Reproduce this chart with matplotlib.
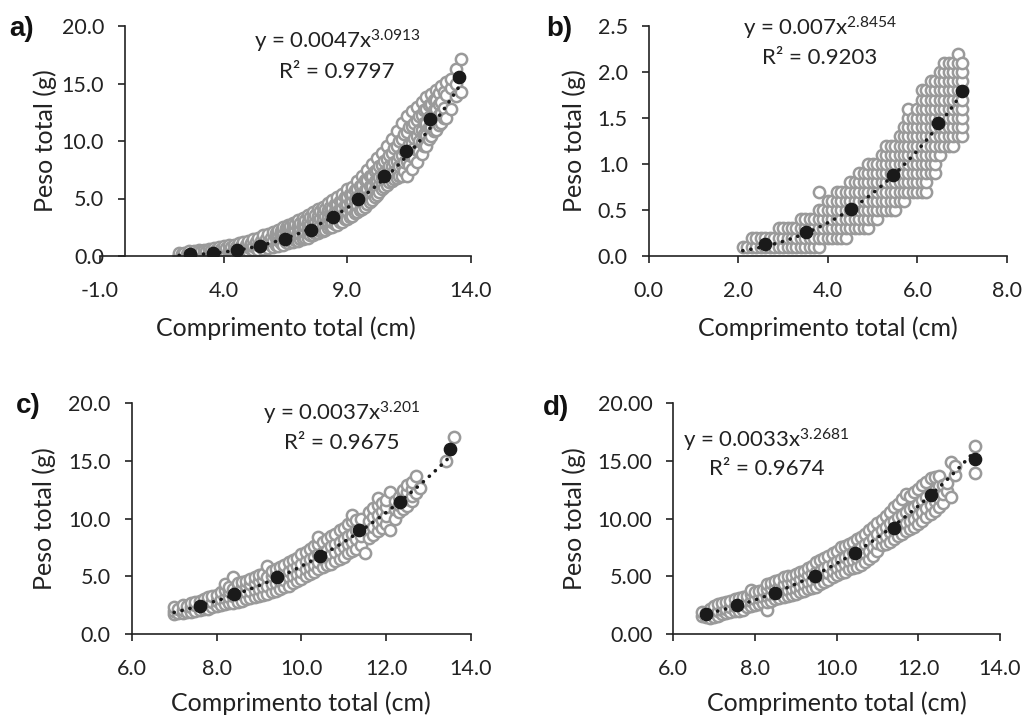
import numpy as np
import matplotlib
matplotlib.use("Agg")
import matplotlib.pyplot as plt
from matplotlib.ticker import FormatStrFormatter

plt.rcParams["font.family"] = ["Lato", "DejaVu Sans"]
plt.rcParams["mathtext.fontset"] = "custom"
plt.rcParams["mathtext.rm"] = "Lato"
plt.rcParams["mathtext.it"] = "Lato"

# ---------------- data ----------------
# a) length classes (cm) and the weights (g) observed in each class
a_len = [2.2, 2.3, 2.4, 2.5, 2.6, 2.7, 2.8, 2.9, 3.0, 3.1, 3.2, 3.3, 3.4, 3.5,
         3.6, 3.7, 3.8, 3.9, 4.0, 4.1, 4.2, 4.3, 4.4, 4.5, 4.6, 4.7, 4.8, 4.9,
         5.0, 5.1, 5.2, 5.3, 5.4, 5.5, 5.6, 5.7, 5.8, 5.9, 6.0, 6.1, 6.2, 6.3,
         6.4, 6.5, 6.6, 6.7, 6.8, 6.9, 7.0, 7.1, 7.2, 7.3, 7.4, 7.5, 7.6, 7.7,
         7.8, 7.9, 8.0, 8.1, 8.2, 8.3, 8.4, 8.5, 8.6, 8.7, 8.8, 8.9, 9.0, 9.1,
         9.2, 9.3, 9.4, 9.5, 9.6, 9.7, 9.8, 9.9, 10.0, 10.1, 10.2, 10.3, 10.4,
         10.5, 10.6, 10.7, 10.8, 10.9, 11.0, 11.1, 11.2, 11.3, 11.4, 11.5,
         11.6, 11.7, 11.8, 11.9, 12.0, 12.1, 12.2, 12.3, 12.4, 12.5, 12.6,
         12.7, 12.8, 12.9, 13.0, 13.2, 13.4, 13.6]
a_wt = [[0.0, 0.1, 0.3], [0.1, 0.2], [0.1, 0.2, 0.3], [0.0, 0.2],
        [0.0, 0.2, 0.4], [0.1, 0.3], [0.1, 0.2, 0.4], [0.1, 0.3],
        [0.1, 0.3, 0.5], [0.2, 0.4], [0.1, 0.3, 0.5], [0.2, 0.4],
        [0.1, 0.3, 0.6], [0.2, 0.5], [0.1, 0.4, 0.7], [0.2, 0.5],
        [0.2, 0.4, 0.8], [0.3, 0.6], [0.2, 0.5, 0.9], [0.3, 0.7],
        [0.2, 0.5, 1.0], [0.4, 0.8], [0.3, 0.6, 1.0], [0.4, 0.8],
        [0.3, 0.7, 1.1], [0.5, 0.9], [0.4, 0.7, 1.2], [0.5, 1.0],
        [0.4, 0.8, 1.3], [0.6, 1.1], [0.5, 0.9, 1.5], [0.7, 1.2],
        [0.5, 1.0, 1.6], [0.8, 1.3], [0.6, 1.1, 1.8], [0.9, 1.5],
        [0.7, 1.2, 1.9], [1.0, 1.6], [0.8, 1.3, 2.1], [1.0, 1.6, 2.0],
        [0.9, 1.4, 1.9, 2.3], [1.1, 1.7, 2.2], [1.0, 1.6, 2.1, 2.5],
        [1.2, 1.9, 2.4], [1.1, 1.8, 2.3, 2.7], [1.3, 2.0, 2.6],
        [1.2, 2.0, 2.5, 2.9], [1.4, 1.9, 2.3, 2.8],
        [1.3, 1.7, 2.1, 2.6, 3.1], [1.5, 1.9, 2.4, 2.9],
        [1.5, 1.9, 2.3, 2.8, 3.3], [1.6, 2.1, 2.6, 3.1],
        [1.6, 2.0, 2.5, 3.0, 3.6], [1.8, 2.3, 2.8, 3.4],
        [1.8, 2.3, 2.8, 3.3, 3.8], [2.0, 2.5, 3.0, 3.6],
        [2.0, 2.5, 3.0, 3.5, 4.1], [2.2, 2.7, 3.3, 3.9],
        [2.2, 2.7, 3.2, 3.7, 4.3], [2.3, 2.9, 3.5, 4.1],
        [2.4, 2.9, 3.4, 4.0, 4.6], [2.5, 3.1, 3.7, 4.3],
        [2.5, 3.0, 3.6, 4.2, 4.9], [2.8, 3.3, 3.9, 4.5],
        [2.7, 3.3, 3.9, 4.5, 5.1], [3.0, 3.6, 4.2, 4.8],
        [3.0, 3.6, 4.2, 4.8, 5.4], [3.2, 3.8, 4.4, 5.1],
        [3.2, 3.9, 4.5, 5.1, 5.8], [3.4, 4.1, 4.7, 5.4],
        [3.5, 4.1, 4.8, 5.4, 6.0], [3.7, 4.4, 5.0, 5.7],
        [3.8, 4.4, 5.1, 5.8, 6.5], [4.0, 4.7, 5.4, 6.1],
        [4.1, 4.7, 5.4, 6.2, 7.0], [4.3, 5.0, 5.7, 6.6],
        [4.5, 5.1, 5.8, 6.6, 7.5], [4.7, 5.4, 6.1, 7.0],
        [4.9, 5.5, 6.1, 7.0, 8.0], [5.1, 5.8, 6.5, 7.4],
        [5.3, 5.9, 6.5, 7.5, 8.5], [5.6, 6.2, 6.9, 7.8],
        [5.8, 6.3, 6.9, 7.9, 9.0], [6.0, 6.6, 7.3, 8.3],
        [6.2, 6.7, 7.3, 8.4, 9.6], [6.4, 7.0, 7.8, 8.8],
        [6.5, 7.1, 7.8, 9.0, 10.2], [6.7, 7.4, 8.2, 9.4],
        [6.8, 7.5, 8.3, 9.6, 10.9], [7.0, 7.8, 8.7, 10.0],
        [7.0, 7.9, 8.8, 10.2, 11.6], [7.4, 8.2, 9.2, 10.6],
        [7.0, 8.3, 9.3, 10.8, 12.2], [7.9, 8.8, 9.7, 11.2],
        [7.6, 8.7, 9.8, 11.3, 12.6], [8.5, 9.4, 10.3, 11.6],
        [8.2, 9.2, 10.4, 11.8, 13.0], [9.1, 10.0, 11.0, 12.2],
        [8.9, 9.9, 11.0, 12.3, 13.4], [9.6, 10.6, 11.6, 12.7],
        [9.6, 10.5, 11.6, 12.8, 13.8], [10.2, 11.2, 12.1, 13.1],
        [10.4, 11.2, 12.2, 13.2, 14.1], [10.9, 11.8, 12.7, 13.6],
        [11.0, 11.8, 12.8, 13.6, 14.4], [11.4, 12.3, 13.2, 14.2],
        [11.6, 12.4, 13.4, 14.8], [12.0, 12.9, 14.3],
        [12.0, 14.0, 15.1], [12.8, 14.6, 15.4], [13.9, 15.0, 16.3],
        [14.3, 17.1]]
a_mean_len = [2.64, 3.58, 4.55, 5.47, 6.48, 7.52, 8.43, 9.44, 10.50, 11.37, 12.34, 13.53]
a_mean_wt = [0.17, 0.23, 0.52, 0.90, 1.48, 2.26, 3.42, 4.98, 6.96, 9.16, 11.88, 15.54]

# b)
b_len = [2.1, 2.2, 2.3, 2.4, 2.5, 2.6, 2.7, 2.8, 2.9, 3.0, 3.1, 3.2, 3.3, 3.4,
         3.5, 3.6, 3.7, 3.8, 3.9, 4.0, 4.1, 4.2, 4.3, 4.4, 4.5, 4.6, 4.7, 4.8,
         4.9, 5.0, 5.1, 5.2, 5.3, 5.4, 5.5, 5.6, 5.7, 5.8, 5.9, 6.0, 6.1, 6.2,
         6.3, 6.4, 6.5, 6.6, 6.7, 6.8, 6.9, 7.0]
b_wt = [[0.1], [0.1], [0.1, 0.2], [0.1, 0.2], [0.1, 0.2], [0.1, 0.2],
        [0.1, 0.2], [0.1, 0.2], [0.1, 0.2, 0.3], [0.1, 0.2, 0.3],
        [0.1, 0.2, 0.3], [0.1, 0.2, 0.3], [0.1, 0.2, 0.3],
        [0.1, 0.2, 0.3, 0.4], [0.1, 0.2, 0.3, 0.4], [0.1, 0.2, 0.3, 0.4],
        [0.1, 0.2, 0.3, 0.4], [0.1, 0.2, 0.3, 0.4, 0.5, 0.7],
        [0.2, 0.3, 0.4, 0.5], [0.2, 0.3, 0.4, 0.5, 0.6],
        [0.2, 0.3, 0.4, 0.5, 0.6], [0.2, 0.3, 0.4, 0.5, 0.6, 0.7],
        [0.2, 0.3, 0.4, 0.5, 0.6, 0.7], [0.2, 0.3, 0.4, 0.5, 0.6, 0.7],
        [0.3, 0.4, 0.5, 0.6, 0.7, 0.8], [0.3, 0.4, 0.5, 0.6, 0.7, 0.8],
        [0.3, 0.4, 0.5, 0.6, 0.7, 0.8, 0.9],
        [0.3, 0.4, 0.5, 0.6, 0.7, 0.8, 0.9],
        [0.3, 0.4, 0.5, 0.6, 0.7, 0.8, 0.9, 1.0],
        [0.4, 0.5, 0.6, 0.7, 0.8, 0.9, 1.0],
        [0.4, 0.5, 0.6, 0.7, 0.8, 0.9, 1.0],
        [0.5, 0.6, 0.7, 0.8, 0.9, 1.0, 1.1],
        [0.5, 0.6, 0.7, 0.8, 0.9, 1.0, 1.1, 1.2],
        [0.5, 0.6, 0.7, 0.8, 0.9, 1.0, 1.1, 1.2],
        [0.5, 0.6, 0.7, 0.8, 0.9, 1.0, 1.1, 1.2],
        [0.6, 0.7, 0.8, 0.9, 1.0, 1.1, 1.2, 1.3],
        [0.6, 0.7, 0.8, 0.9, 1.0, 1.1, 1.2, 1.3, 1.4],
        [0.7, 0.8, 0.9, 1.0, 1.1, 1.2, 1.3, 1.4, 1.5, 1.6],
        [0.7, 0.8, 0.9, 1.0, 1.1, 1.2, 1.3, 1.4, 1.5],
        [0.7, 0.8, 0.9, 1.0, 1.1, 1.2, 1.3, 1.4, 1.5, 1.6],
        [0.7, 0.8, 0.9, 1.0, 1.1, 1.2, 1.3, 1.4, 1.5, 1.6, 1.7, 1.8],
        [0.7, 0.8, 0.9, 1.0, 1.1, 1.2, 1.3, 1.4, 1.5, 1.6, 1.7, 1.8],
        [0.9, 1.0, 1.1, 1.2, 1.3, 1.4, 1.5, 1.6, 1.7, 1.8, 1.9],
        [0.9, 1.0, 1.1, 1.2, 1.3, 1.4, 1.5, 1.6, 1.7, 1.8, 1.9],
        [1.1, 1.2, 1.3, 1.4, 1.5, 1.6, 1.7, 1.8, 1.9, 2.0],
        [1.2, 1.3, 1.4, 1.5, 1.6, 1.7, 1.8, 1.9, 2.0, 2.1],
        [1.2, 1.3, 1.4, 1.5, 1.6, 1.7, 1.8, 1.9, 2.0, 2.1],
        [1.2, 1.3, 1.4, 1.5, 1.6, 1.7, 1.8, 1.9, 2.0, 2.1],
        [1.3, 1.4, 1.5, 1.6, 1.7, 1.8, 1.9, 2.0, 2.1, 2.2],
        [1.3, 1.4, 1.5, 1.6, 1.7, 1.8, 1.9, 2.0, 2.1]]
b_mean_len = [2.60, 3.52, 4.52, 5.45, 6.45, 7.00]
b_mean_wt = [0.13, 0.26, 0.51, 0.88, 1.45, 1.79]

# c)
c_len = [7.0, 7.1, 7.2, 7.3, 7.4, 7.5, 7.6, 7.7, 7.8, 7.9, 8.0, 8.1, 8.2, 8.3,
         8.4, 8.5, 8.6, 8.7, 8.8, 8.9, 9.0, 9.1, 9.2, 9.3, 9.4, 9.5, 9.6, 9.7,
         9.8, 9.9, 10.0, 10.1, 10.2, 10.3, 10.4, 10.5, 10.6, 10.7, 10.8, 10.9,
         11.0, 11.1, 11.2, 11.3, 11.4, 11.5, 11.6, 11.7, 11.8, 11.9, 12.0,
         12.1, 12.2, 12.3, 12.4, 12.5, 12.6, 12.7, 12.8, 13.4, 13.6]
c_wt = [[1.7, 2.0, 2.3], [1.8, 2.2], [1.8, 2.1, 2.5], [1.9, 2.4],
        [1.9, 2.3, 2.7], [2.0, 2.5, 2.8], [2.1, 2.5, 2.9], [2.2, 2.7, 3.0],
        [2.2, 2.7, 3.2], [2.3, 2.8, 3.3], [2.4, 2.9, 3.4], [2.5, 3.0, 3.6],
        [2.6, 3.1, 3.8, 4.3], [2.7, 3.2, 3.7, 4.1], [2.7, 3.3, 3.9, 4.9],
        [2.8, 3.4, 4.0, 4.4], [2.9, 3.5, 4.1, 4.5], [3.0, 3.6, 4.2, 4.6],
        [3.1, 3.7, 4.3, 4.8], [3.2, 3.8, 4.4, 4.9], [3.3, 3.9, 4.6, 5.1],
        [3.4, 4.1, 4.7, 5.2], [3.5, 4.2, 4.9, 5.9], [3.6, 4.3, 5.0, 5.5],
        [3.7, 4.4, 5.1, 5.6], [3.9, 4.6, 5.2, 5.8], [4.1, 4.7, 5.4, 6.0],
        [4.2, 4.9, 5.5, 6.2], [4.4, 5.0, 5.7, 6.4], [4.6, 5.2, 5.9, 6.6],
        [4.8, 5.4, 6.1, 6.9], [5.0, 5.6, 6.3, 7.1], [5.2, 5.8, 6.5, 7.4],
        [5.4, 6.0, 6.7, 7.6], [5.6, 6.2, 6.9, 7.8, 8.4], [5.8, 6.5, 7.1, 8.0],
        [6.0, 6.7, 7.3, 8.2], [6.1, 6.9, 7.6, 8.5], [6.3, 7.1, 7.8, 8.7],
        [6.5, 7.3, 8.0, 9.0], [6.7, 7.5, 8.2, 9.2], [7.0, 7.8, 8.5, 9.5],
        [7.2, 8.0, 8.7, 9.8, 10.3], [7.4, 8.2, 9.0, 9.9],
        [7.7, 8.5, 9.2, 10.0], [7.0], [8.3, 9.1, 9.8, 10.6],
        [8.6, 9.3, 10.1, 10.9], [8.9, 9.6, 10.3, 11.2, 11.8],
        [9.2, 9.9, 10.7, 11.4], [9.5, 10.2, 11.0, 11.6], [9.0, 12.3],
        [10.0, 10.8, 11.5], [10.6, 11.2, 11.9], [10.8, 11.4, 12.0, 12.5],
        [11.1, 11.7, 12.3, 12.9], [11.5, 12.0, 12.6, 13.2], [12.2, 13.7],
        [12.7], [15.0], [17.1]]
c_mean_len = [7.61, 8.42, 9.42, 10.44, 11.37, 12.33, 13.50]
c_mean_wt = [2.46, 3.44, 4.92, 6.77, 9.02, 11.48, 16.02]

# d)
d_len = [6.7, 6.8, 6.9, 7.0, 7.1, 7.2, 7.3, 7.4, 7.5, 7.6, 7.7, 7.8, 7.9, 8.0,
         8.1, 8.2, 8.3, 8.4, 8.5, 8.6, 8.7, 8.8, 8.9, 9.0, 9.1, 9.2, 9.3, 9.4,
         9.5, 9.6, 9.7, 9.8, 9.9, 10.0, 10.1, 10.2, 10.3, 10.4, 10.5, 10.6,
         10.7, 10.8, 10.9, 11.0, 11.1, 11.2, 11.3, 11.4, 11.5, 11.6, 11.7,
         11.8, 11.9, 12.0, 12.1, 12.2, 12.3, 12.4, 12.5, 12.6, 12.7, 12.8,
         12.9, 13.4]
d_wt = [[1.6, 1.9], [1.5, 1.8], [1.4, 1.8, 2.2], [1.5, 1.9, 2.4],
        [1.6, 2.0, 2.6], [1.7, 2.1, 2.7], [1.8, 2.2, 2.8], [1.9, 2.3, 2.9],
        [2.0, 2.4, 3.0], [2.0, 2.5, 3.1], [2.1, 2.6, 3.2], [2.3, 2.8, 3.3],
        [2.4, 2.9, 3.5, 3.8], [2.5, 3.0, 3.6], [2.6, 3.1, 3.7],
        [2.7, 3.2, 3.8], [2.1, 2.8, 3.3, 3.9, 4.3], [2.9, 3.4, 4.0, 4.4],
        [3.0, 3.5, 4.1, 4.6], [3.1, 3.6, 4.2, 4.7], [3.2, 3.7, 4.3, 4.9],
        [3.3, 3.8, 4.4, 5.0], [3.4, 3.9, 4.5, 5.0], [3.5, 4.0, 4.6, 5.2],
        [3.6, 4.2, 4.8, 5.4], [3.7, 4.3, 4.9, 5.5], [3.9, 4.5, 5.1, 5.7],
        [4.0, 4.6, 5.3, 5.9], [4.1, 4.8, 5.4, 6.2], [4.3, 4.9, 5.5, 6.4],
        [4.5, 5.1, 5.7, 6.6], [4.7, 5.3, 5.9, 6.8], [4.9, 5.5, 6.1, 7.0],
        [5.1, 5.7, 6.3, 7.2], [5.3, 5.9, 6.5, 7.5], [5.4, 6.1, 6.7, 7.6],
        [5.6, 6.3, 6.9, 7.8], [5.7, 6.4, 7.1, 8.0], [5.8, 6.6, 7.3, 8.2],
        [6.0, 6.8, 7.5, 8.4], [6.2, 7.0, 7.8, 8.7], [6.5, 7.2, 8.0, 9.0],
        [6.8, 7.5, 8.3, 9.3], [7.2, 7.9, 8.7, 9.6], [7.7, 8.3, 9.0, 9.9],
        [7.8, 8.5, 9.3, 10.2], [8.0, 8.8, 9.6, 10.6], [8.2, 9.0, 9.8, 11.0],
        [8.5, 9.2, 10.1, 11.3], [8.7, 9.4, 10.3, 11.7],
        [8.9, 9.6, 10.6, 12.1], [9.1, 9.8, 10.8, 12.0],
        [9.3, 10.0, 11.0, 12.3], [9.5, 10.3, 11.3, 12.6],
        [9.8, 10.6, 11.6, 12.9], [10.1, 10.9, 11.9, 13.2],
        [10.4, 11.2, 12.2, 13.5], [10.7, 11.5, 12.5, 13.6],
        [11.0, 11.8, 12.8, 13.7], [11.4, 12.1, 12.9], [12.4, 13.1],
        [11.9, 14.9], [13.8, 14.6], [14.0, 16.3]]
d_mean_len = [6.80, 7.57, 8.50, 9.46, 10.46, 11.40, 12.32, 13.40]
d_mean_wt = [1.73, 2.52, 3.53, 5.06, 7.00, 9.22, 12.06, 15.15]

# power-fit coefficients (W = a * L^b) and R^2
fit_a = [0.0047, 0.007, 0.0037, 0.0033]
fit_b = [3.0913, 2.8454, 3.201, 3.2681]
fit_eq_a = ["0.0047", "0.007", "0.0037", "0.0033"]
fit_eq_b = ["3.0913", "2.8454", "3.201", "3.2681"]
fit_r2 = ["0.9797", "0.9203", "0.9675", "0.9674"]

panel_tags = ["a)", "b)", "c)", "d)"]
x_label = "Comprimento total (cm)"
y_label = "Peso total (g)"

# ---------------- drawing ----------------
W, H = 1025, 715
fig = plt.figure(figsize=(W / 100, H / 100), dpi=100)


def rect(x0, x1, ytop, ybot):
    return [x0 / W, 1 - ybot / H, (x1 - x0) / W, (ybot - ytop) / H]


GRAY = "#9a9a9a"
INK = "#222222"
FS_TICK = 15.5
FS_LAB = 18
FS_EQ = 16


def panel(box, lens, wts, mlen, mwt, k, xlim, xticks, ylim, yticks, yfmt,
          eq_xy, r2_xy, tag_xy, ylab_x, xlab_y, yspine_at=None):
    ax = fig.add_axes(rect(*box))
    xs = [l for l, ws in zip(lens, wts) for _ in ws]
    ys = [w for ws in wts for w in ws]
    ax.scatter(xs, ys, s=66, facecolors="white", edgecolors=GRAY,
               linewidths=1.8, zorder=2)
    tx = np.linspace(min(xs), max(xs), 200)
    ax.plot(tx, fit_a[k] * tx ** fit_b[k], color="#1a1a1a", lw=2.6,
            linestyle=(0, (0.05, 2.2)), dash_capstyle="round", zorder=3)
    ax.scatter(mlen, mwt, s=78, color="#1a1a1a", zorder=4)
    ax.set_xlim(*xlim)
    ax.set_ylim(*ylim)
    ax.set_xticks(xticks)
    ax.set_yticks(yticks)
    ax.xaxis.set_major_formatter(FormatStrFormatter("%.1f"))
    ax.yaxis.set_major_formatter(FormatStrFormatter(yfmt))
    for s in ("top", "right"):
        ax.spines[s].set_visible(False)
    for s in ("left", "bottom"):
        ax.spines[s].set_linewidth(1.2)
        ax.spines[s].set_color(INK)
    if yspine_at is not None:
        ax.spines["left"].set_position(("data", yspine_at))
    ax.tick_params(direction="out", length=5, width=1.2, color=INK,
                   labelsize=FS_TICK, labelcolor=INK)
    ax.tick_params(axis="x", pad=13)
    ax.tick_params(axis="y", pad=10)
    ax.patch.set_alpha(0)

    fig.text(eq_xy[0] / W, 1 - eq_xy[1] / H,
             "y = " + fit_eq_a[k] + "x$^{" + fit_eq_b[k] + "}$",
             ha="center", va="center", fontsize=FS_EQ, color=INK)
    fig.text(r2_xy[0] / W, 1 - r2_xy[1] / H, "R² = " + fit_r2[k],
             ha="center", va="center", fontsize=FS_EQ, color=INK)
    fig.text(tag_xy[0] / W, 1 - tag_xy[1] / H, panel_tags[k],
             ha="left", va="center", fontsize=20, fontweight="bold",
             family="Liberation Sans", color="#111111")
    fig.text(ylab_x / W, 1 - (box[2] + box[3]) / 2 / H, y_label,
             rotation=90, ha="center", va="center", fontsize=FS_LAB,
             color=INK)
    fig.text((box[0] + box[1]) / 2 / W, 1 - xlab_y / H, x_label,
             ha="center", va="center", fontsize=FS_LAB, color=INK)
    return ax


panel((100, 471, 26, 256), a_len, a_wt, a_mean_len, a_mean_wt, 0,
      (-1, 14), [-1, 4, 9, 14], (0, 20), [0, 5, 10, 15, 20], "%.1f",
      (337, 41), (337, 72), (9, 29), 45, 328, yspine_at=0)
panel((648.7, 1007, 26, 256), b_len, b_wt, b_mean_len, b_mean_wt, 1,
      (0, 8), [0, 2, 4, 6, 8], (0, 2.5), [0, 0.5, 1.0, 1.5, 2.0, 2.5], "%.1f",
      (820, 28), (820, 58), (546, 29), 574, 328)
panel((131.7, 471, 403.3, 634), c_len, c_wt, c_mean_len, c_mean_wt, 2,
      (6, 14), [6, 8, 10, 12, 14], (0, 20), [0, 5, 10, 15, 20], "%.1f",
      (342, 413), (342, 443), (16, 406), 44, 703)
panel((673.3, 1000, 403.3, 634), d_len, d_wt, d_mean_len, d_mean_wt, 3,
      (6, 14), [6, 8, 10, 12, 14], (0, 20), [0, 5, 10, 15, 20], "%.2f",
      (766, 440), (767, 469), (543, 408), 574, 703)

fig.savefig("out.png", dpi=100, facecolor="white")
